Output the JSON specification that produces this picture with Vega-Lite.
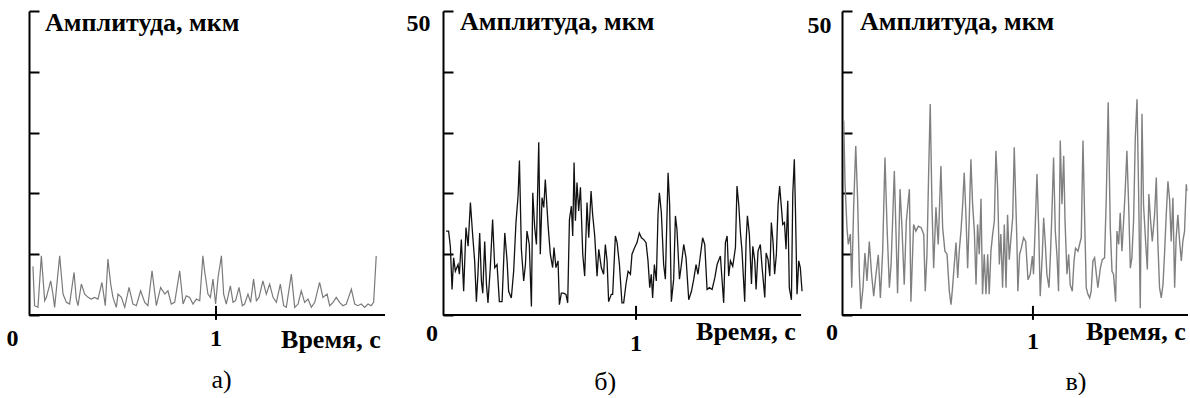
{
  "$schema": "https://vega.github.io/schema/vega-lite/v6.json",
  "padding": {"left": 6, "top": 9, "right": 0, "bottom": 0},
  "background": "white",
  "spacing": 0,
  "bounds": "flush",
  "config": {
    "view": {"stroke": null},
    "text": {"font": "Liberation Serif", "fontWeight": "bold", "fontSize": 26, "color": "black"},
    "axisY": {
      "title": null,
      "grid": false,
      "domainColor": "black",
      "domainWidth": 2,
      "tickColor": "black",
      "tickWidth": 2,
      "tickSize": -10,
      "labelFont": "Liberation Serif",
      "labelFontWeight": "bold",
      "labelFontSize": 24,
      "labelColor": "black",
      "labelPadding": 23,
      "labelBaseline": "middle"
    }
  },
  "datasets": {
    "a": [
      {"t":0.021,"v":8.0},{"t":0.030,"v":1.53},{"t":0.048,"v":1.26},{"t":0.066,"v":9.73},{"t":0.084,"v":2.35},{"t":0.093,"v":2.9},{"t":0.116,"v":5.6},{"t":0.128,"v":3.44},{"t":0.137,"v":1.26},{"t":0.164,"v":9.73},{"t":0.182,"v":3.44},{"t":0.200,"v":2.08},{"t":0.217,"v":1.8},{"t":0.241,"v":7.0},{"t":0.253,"v":2.62},{"t":0.262,"v":1.53},{"t":0.280,"v":5.1},{"t":0.298,"v":3.44},{"t":0.316,"v":2.9},{"t":0.333,"v":2.62},{"t":0.351,"v":2.9},{"t":0.369,"v":2.62},{"t":0.390,"v":5.35},{"t":0.408,"v":1.53},{"t":0.422,"v":9.2},{"t":0.437,"v":5.08},{"t":0.449,"v":2.9},{"t":0.467,"v":1.26},{"t":0.476,"v":3.44},{"t":0.494,"v":2.9},{"t":0.512,"v":1.26},{"t":0.535,"v":4.53},{"t":0.556,"v":1.8},{"t":0.574,"v":1.53},{"t":0.597,"v":3.98},{"t":0.619,"v":2.08},{"t":0.636,"v":1.53},{"t":0.658,"v":7.27},{"t":0.681,"v":1.53},{"t":0.704,"v":4.53},{"t":0.726,"v":3.44},{"t":0.743,"v":3.98},{"t":0.761,"v":1.8},{"t":0.779,"v":2.08},{"t":0.806,"v":7.27},{"t":0.824,"v":1.8},{"t":0.841,"v":3.17},{"t":0.859,"v":2.9},{"t":0.877,"v":1.8},{"t":0.895,"v":2.62},{"t":0.913,"v":2.35},{"t":0.930,"v":9.73},{"t":0.939,"v":7.27},{"t":0.957,"v":3.44},{"t":0.970,"v":2.9},{"t":0.984,"v":5.9},{"t":0.998,"v":1.8},{"t":1.011,"v":6.17},{"t":1.029,"v":9.73},{"t":1.041,"v":3.44},{"t":1.055,"v":1.8},{"t":1.077,"v":4.8},{"t":1.091,"v":2.08},{"t":1.105,"v":2.35},{"t":1.123,"v":4.53},{"t":1.141,"v":1.53},{"t":1.153,"v":1.8},{"t":1.171,"v":3.44},{"t":1.185,"v":2.08},{"t":1.201,"v":5.9},{"t":1.216,"v":2.35},{"t":1.230,"v":2.9},{"t":1.251,"v":5.6},{"t":1.269,"v":3.44},{"t":1.287,"v":5.08},{"t":1.305,"v":2.9},{"t":1.323,"v":2.08},{"t":1.344,"v":5.08},{"t":1.362,"v":1.53},{"t":1.376,"v":1.26},{"t":1.403,"v":6.72},{"t":1.421,"v":1.26},{"t":1.439,"v":1.8},{"t":1.456,"v":3.98},{"t":1.474,"v":2.08},{"t":1.492,"v":2.62},{"t":1.510,"v":1.26},{"t":1.528,"v":2.08},{"t":1.554,"v":5.35},{"t":1.572,"v":2.9},{"t":1.594,"v":3.44},{"t":1.608,"v":1.53},{"t":1.626,"v":2.08},{"t":1.643,"v":2.9},{"t":1.661,"v":2.08},{"t":1.679,"v":1.53},{"t":1.697,"v":1.8},{"t":1.724,"v":4.26},{"t":1.742,"v":1.8},{"t":1.759,"v":1.53},{"t":1.777,"v":1.8},{"t":1.795,"v":1.26},{"t":1.813,"v":1.8},{"t":1.830,"v":1.53},{"t":1.843,"v":2.08},{"t":1.857,"v":9.73}
    ],
    "b": [
      {"t":0.016,"v":13.8},{"t":0.029,"v":13.8},{"t":0.038,"v":11.3},{"t":0.047,"v":4.2},{"t":0.055,"v":9.4},{"t":0.064,"v":7.2},{"t":0.078,"v":8.3},{"t":0.085,"v":6.7},{"t":0.095,"v":12.4},{"t":0.107,"v":3.9},{"t":0.119,"v":14.4},{"t":0.130,"v":11.3},{"t":0.142,"v":18.5},{"t":0.154,"v":13.0},{"t":0.164,"v":8.9},{"t":0.173,"v":2.2},{"t":0.181,"v":6.7},{"t":0.190,"v":13.5},{"t":0.199,"v":5.6},{"t":0.206,"v":3.6},{"t":0.216,"v":12.1},{"t":0.225,"v":5.1},{"t":0.233,"v":2.0},{"t":0.245,"v":7.8},{"t":0.257,"v":15.7},{"t":0.268,"v":7.8},{"t":0.280,"v":8.3},{"t":0.292,"v":2.2},{"t":0.306,"v":2.2},{"t":0.320,"v":13.5},{"t":0.332,"v":8.9},{"t":0.340,"v":3.9},{"t":0.354,"v":2.8},{"t":0.366,"v":7.2},{"t":0.378,"v":15.2},{"t":0.389,"v":19.6},{"t":0.396,"v":25.4},{"t":0.406,"v":10.8},{"t":0.418,"v":5.6},{"t":0.427,"v":8.3},{"t":0.435,"v":13.8},{"t":0.447,"v":11.6},{"t":0.458,"v":1.4},{"t":0.465,"v":20.1},{"t":0.475,"v":14.4},{"t":0.484,"v":11.6},{"t":0.496,"v":28.4},{"t":0.504,"v":10.0},{"t":0.513,"v":19.3},{"t":0.522,"v":17.7},{"t":0.530,"v":22.3},{"t":0.544,"v":14.9},{"t":0.556,"v":10.0},{"t":0.568,"v":7.8},{"t":0.575,"v":11.1},{"t":0.585,"v":7.8},{"t":0.596,"v":8.9},{"t":0.603,"v":1.7},{"t":0.613,"v":3.6},{"t":0.625,"v":3.6},{"t":0.637,"v":3.4},{"t":0.646,"v":2.0},{"t":0.655,"v":15.7},{"t":0.665,"v":17.9},{"t":0.672,"v":13.0},{"t":0.679,"v":25.1},{"t":0.686,"v":15.5},{"t":0.694,"v":21.8},{"t":0.703,"v":17.1},{"t":0.712,"v":21.0},{"t":0.724,"v":10.0},{"t":0.734,"v":6.4},{"t":0.746,"v":18.5},{"t":0.755,"v":12.7},{"t":0.767,"v":20.4},{"t":0.775,"v":16.6},{"t":0.786,"v":13.0},{"t":0.798,"v":6.4},{"t":0.807,"v":10.8},{"t":0.820,"v":7.8},{"t":0.832,"v":6.7},{"t":0.841,"v":11.6},{"t":0.850,"v":8.9},{"t":0.858,"v":2.2},{"t":0.872,"v":3.4},{"t":0.879,"v":3.4},{"t":0.893,"v":13.0},{"t":0.902,"v":11.9},{"t":0.914,"v":8.3},{"t":0.927,"v":2.0},
      {"t":0.936,"v":2.0},{"t":0.948,"v":5.1},{"t":0.959,"v":7.2},{"t":0.971,"v":6.7},{"t":0.979,"v":10.0},{"t":0.993,"v":11.1},{"t":1.005,"v":11.9},{"t":1.017,"v":13.5},{"t":1.028,"v":12.7},{"t":1.040,"v":12.4},{"t":1.052,"v":11.9},{"t":1.062,"v":8.9},{"t":1.071,"v":4.5},{"t":1.079,"v":6.7},{"t":1.086,"v":2.8},{"t":1.095,"v":8.3},{"t":1.105,"v":5.6},{"t":1.114,"v":16.6},{"t":1.121,"v":20.1},{"t":1.131,"v":16.9},{"t":1.143,"v":8.3},{"t":1.152,"v":5.9},{"t":1.166,"v":23.4},{"t":1.174,"v":18.2},{"t":1.183,"v":2.2},{"t":1.195,"v":5.9},{"t":1.204,"v":16.3},{"t":1.212,"v":14.1},{"t":1.225,"v":5.9},{"t":1.235,"v":8.3},{"t":1.247,"v":11.6},{"t":1.259,"v":9.4},{"t":1.273,"v":2.5},{"t":1.287,"v":3.9},{"t":1.299,"v":5.9},{"t":1.311,"v":8.3},{"t":1.321,"v":6.7},{"t":1.333,"v":9.7},{"t":1.345,"v":12.7},{"t":1.356,"v":11.6},{"t":1.368,"v":4.2},{"t":1.380,"v":4.5},{"t":1.394,"v":4.2},{"t":1.408,"v":6.1},{"t":1.420,"v":8.3},{"t":1.437,"v":9.7},{"t":1.446,"v":5.6},{"t":1.454,"v":2.0},{"t":1.463,"v":11.9},{"t":1.472,"v":13.0},{"t":1.480,"v":6.4},{"t":1.489,"v":8.9},{"t":1.501,"v":8.0},{"t":1.515,"v":11.1},{"t":1.523,"v":21.2},{"t":1.532,"v":18.2},{"t":1.541,"v":13.5},{"t":1.549,"v":10.5},{"t":1.563,"v":2.2},{"t":1.570,"v":11.9},{"t":1.577,"v":16.3},{"t":1.587,"v":13.3},{"t":1.598,"v":5.1},{"t":1.605,"v":11.3},{"t":1.615,"v":8.9},{"t":1.622,"v":4.2},{"t":1.632,"v":10.5},{"t":1.644,"v":11.6},{"t":1.653,"v":7.8},{"t":1.667,"v":2.9},{"t":1.674,"v":10.2},{"t":1.684,"v":9.1},{"t":1.693,"v":6.4},{"t":1.701,"v":15.2},{"t":1.710,"v":11.9},{"t":1.718,"v":6.7},{"t":1.727,"v":10.0},{"t":1.736,"v":18.2},{"t":1.744,"v":21.2},{"t":1.753,"v":17.7},{"t":1.760,"v":14.9},{"t":1.769,"v":15.2},{"t":1.777,"v":10.8},{"t":1.786,"v":18.8},{"t":1.794,"v":4.5},{"t":1.805,"v":2.5},{"t":1.812,"v":19.9},{"t":1.820,"v":25.6},{"t":1.826,"v":17.1},{"t":1.834,"v":3.4},{"t":1.843,"v":8.9},{"t":1.851,"v":7.8},{"t":1.860,"v":3.9}
    ],
    "c": [
      {"t":0.009,"v":32.0},{"t":0.016,"v":21.5},{"t":0.026,"v":14.4},{"t":0.033,"v":11.6},{"t":0.044,"v":13.3},{"t":0.051,"v":4.5},{"t":0.061,"v":17.7},{"t":0.072,"v":27.8},{"t":0.082,"v":18.8},{"t":0.091,"v":6.7},{"t":0.099,"v":1.0},{"t":0.110,"v":4.5},{"t":0.120,"v":10.2},{"t":0.131,"v":5.6},{"t":0.143,"v":12.1},{"t":0.155,"v":6.7},{"t":0.166,"v":3.1},{"t":0.178,"v":6.7},{"t":0.190,"v":9.9},{"t":0.201,"v":2.8},{"t":0.213,"v":10.5},{"t":0.225,"v":25.9},{"t":0.236,"v":14.4},{"t":0.248,"v":4.5},{"t":0.257,"v":8.3},{"t":0.265,"v":15.5},{"t":0.274,"v":23.7},{"t":0.283,"v":13.3},{"t":0.291,"v":3.6},{"t":0.304,"v":20.7},{"t":0.314,"v":14.4},{"t":0.326,"v":5.0},{"t":0.337,"v":15.5},{"t":0.353,"v":20.7},{"t":0.361,"v":2.2},{"t":0.375,"v":14.9},{"t":0.387,"v":13.8},{"t":0.400,"v":14.6},{"t":0.414,"v":14.4},{"t":0.428,"v":13.3},{"t":0.436,"v":3.9},{"t":0.445,"v":10.0},{"t":0.454,"v":23.7},{"t":0.462,"v":34.7},{"t":0.471,"v":18.2},{"t":0.480,"v":7.7},{"t":0.492,"v":17.7},{"t":0.504,"v":11.6},{"t":0.518,"v":24.5},{"t":0.527,"v":14.4},{"t":0.539,"v":10.5},{"t":0.550,"v":10.0},{"t":0.562,"v":3.9},{"t":0.571,"v":1.7},{"t":0.579,"v":4.5},{"t":0.588,"v":8.3},{"t":0.597,"v":11.9},{"t":0.606,"v":6.1},{"t":0.614,"v":10.5},{"t":0.623,"v":13.8},{"t":0.632,"v":18.2},{"t":0.640,"v":23.4},{"t":0.649,"v":16.5},{"t":0.658,"v":7.7},{"t":0.667,"v":16.5},{"t":0.675,"v":25.6},{"t":0.684,"v":18.2},{"t":0.693,"v":13.8},{"t":0.702,"v":5.0},{"t":0.710,"v":14.9},{"t":0.719,"v":10.0},{"t":0.728,"v":19.1},{"t":0.736,"v":3.4},{"t":0.745,"v":10.0},{"t":0.754,"v":3.4},{"t":0.763,"v":10.0},{"t":0.771,"v":3.4},{"t":0.780,"v":10.5},{"t":0.789,"v":13.3},{"t":0.798,"v":15.5},{"t":0.806,"v":27.0},{"t":0.815,"v":20.9},{"t":0.824,"v":8.3},{"t":0.832,"v":13.3},{"t":0.841,"v":4.5},{"t":0.850,"v":14.9},{"t":0.859,"v":4.5},{"t":0.867,"v":16.5},{"t":0.876,"v":9.1},{"t":0.885,"v":12.7},{"t":0.894,"v":16.0},{"t":0.902,"v":27.6},
      {"t":0.916,"v":12.1},{"t":0.921,"v":3.9},{"t":0.930,"v":10.0},{"t":0.939,"v":11.0},{"t":0.951,"v":12.7},{"t":0.962,"v":12.1},{"t":0.974,"v":5.8},{"t":0.986,"v":6.7},{"t":0.997,"v":9.7},{"t":1.003,"v":6.7},{"t":1.014,"v":16.5},{"t":1.021,"v":23.2},{"t":1.030,"v":14.4},{"t":1.038,"v":3.1},{"t":1.049,"v":10.0},{"t":1.056,"v":16.0},{"t":1.065,"v":11.6},{"t":1.073,"v":6.7},{"t":1.084,"v":4.5},{"t":1.091,"v":9.4},{"t":1.099,"v":16.5},{"t":1.108,"v":25.9},{"t":1.117,"v":13.8},{"t":1.126,"v":9.7},{"t":1.134,"v":3.9},{"t":1.143,"v":28.7},{"t":1.152,"v":18.2},{"t":1.161,"v":26.2},{"t":1.168,"v":15.5},{"t":1.178,"v":6.7},{"t":1.187,"v":10.0},{"t":1.195,"v":5.0},{"t":1.206,"v":3.9},{"t":1.215,"v":8.9},{"t":1.223,"v":11.0},{"t":1.236,"v":10.5},{"t":1.244,"v":11.6},{"t":1.253,"v":12.7},{"t":1.262,"v":28.7},{"t":1.271,"v":15.5},{"t":1.279,"v":4.5},{"t":1.288,"v":3.4},{"t":1.297,"v":2.8},{"t":1.305,"v":3.9},{"t":1.314,"v":8.9},{"t":1.323,"v":9.4},{"t":1.332,"v":6.7},{"t":1.340,"v":4.5},{"t":1.353,"v":7.7},{"t":1.363,"v":9.1},{"t":1.375,"v":9.4},{"t":1.384,"v":19.3},{"t":1.394,"v":35.0},{"t":1.405,"v":14.4},{"t":1.414,"v":7.2},{"t":1.422,"v":6.7},{"t":1.433,"v":2.2},{"t":1.440,"v":13.8},{"t":1.449,"v":11.6},{"t":1.457,"v":16.8},{"t":1.466,"v":10.5},{"t":1.475,"v":15.5},{"t":1.483,"v":20.4},{"t":1.492,"v":27.0},{"t":1.501,"v":18.2},{"t":1.510,"v":7.7},{"t":1.518,"v":9.4},{"t":1.527,"v":15.5},{"t":1.536,"v":29.2},{"t":1.545,"v":35.5},{"t":1.553,"v":20.9},{"t":1.562,"v":1.1},{"t":1.571,"v":33.1},{"t":1.579,"v":18.2},{"t":1.590,"v":12.1},{"t":1.599,"v":7.5},{"t":1.607,"v":19.9},{"t":1.616,"v":15.5},{"t":1.625,"v":12.1},{"t":1.637,"v":16.5},{"t":1.646,"v":22.6},{"t":1.654,"v":12.1},{"t":1.663,"v":4.5},{"t":1.672,"v":2.8},{"t":1.681,"v":5.0},{"t":1.689,"v":10.0},{"t":1.698,"v":16.5},{"t":1.707,"v":22.0},{"t":1.716,"v":18.8},{"t":1.724,"v":12.1},{"t":1.733,"v":19.3},{"t":1.742,"v":4.5},{"t":1.750,"v":12.7},{"t":1.759,"v":16.5},{"t":1.768,"v":12.1},{"t":1.777,"v":8.9},{"t":1.785,"v":12.1},{"t":1.794,"v":13.8},{"t":1.803,"v":21.5},{"t":1.806,"v":20.4}
    ]
  },
  "hconcat": [
    {
      "width": 414,
      "height": 304,
      "layer": [
        {
          "data": {"name": "a"},
          "mark": {"type": "line", "color": "#7a7a7a", "strokeWidth": 1.2},
          "encoding": {
            "x": {"field": "t", "type": "quantitative", "scale": {"domain": [0, 2.214], "nice": false}, "axis": null},
            "y": {"field": "v", "type": "quantitative", "scale": {"domain": [0, 50], "nice": false}, "axis": {"values": [0, 10, 20, 30, 40, 50], "labels": false}}
          }
        },
        {"data": {"values": [{}]}, "mark": {"type": "rule", "strokeWidth": 2, "color": "black"}, "encoding": {"x": {"datum": 0}, "x2": {"datum": 1.904}, "y": {"datum": 0}}},
        {"data": {"values": [{}]}, "mark": {"type": "rule", "strokeWidth": 2, "color": "black"}, "encoding": {"x": {"datum": 1}, "y": {"datum": -0.8}, "y2": {"datum": 1.5}}},
        {"data": {"values": [{}]}, "mark": {"type": "text", "font": "Liberation Serif", "fontWeight": "bold", "fontSize": 26, "align": "left", "baseline": "alphabetic"}, "encoding": {"x": {"datum": 0.086}, "y": {"datum": 46.7}, "text": {"value": "Амплитуда, мкм"}}},
        {"data": {"values": [{}]}, "mark": {"type": "text", "font": "Liberation Serif", "fontWeight": "bold", "align": "center", "baseline": "middle", "fontSize": 24}, "encoding": {"x": {"datum": -0.088}, "y": {"datum": -3.95}, "text": {"value": "0"}}},
        {"data": {"values": [{}]}, "mark": {"type": "text", "font": "Liberation Serif", "fontWeight": "bold", "align": "center", "baseline": "middle", "fontSize": 24}, "encoding": {"x": {"datum": 1.0}, "y": {"datum": -3.95}, "text": {"value": "1"}}},
        {"data": {"values": [{}]}, "mark": {"type": "text", "font": "Liberation Serif", "fontWeight": "bold", "fontSize": 26, "align": "left", "baseline": "middle"}, "encoding": {"x": {"datum": 1.348}, "y": {"datum": -4.1}, "text": {"value": "Время, с"}}},
        {"data": {"values": [{}]}, "mark": {"type": "text", "font": "Liberation Serif", "fontSize": 26, "align": "center", "baseline": "middle", "fontWeight": "normal"}, "encoding": {"x": {"datum": 1.03}, "y": {"datum": -10.7}, "text": {"value": "а)"}}}
      ]
    },
    {
      "width": 399,
      "height": 304,
      "layer": [
        {
          "data": {"name": "b"},
          "mark": {"type": "line", "color": "#111111", "strokeWidth": 1.3},
          "encoding": {
            "x": {"field": "t", "type": "quantitative", "scale": {"domain": [0, 2.067], "nice": false}, "axis": null},
            "y": {"field": "v", "type": "quantitative", "scale": {"domain": [0, 50], "nice": false}, "axis": {"values": [0, 10, 20, 30, 40, 50], "labelExpr": "datum.value == 50 ? '50' : ''", "labelOffset": 12}}
          }
        },
        {"data": {"values": [{}]}, "mark": {"type": "rule", "strokeWidth": 2, "color": "black"}, "encoding": {"x": {"datum": 0}, "x2": {"datum": 1.855}, "y": {"datum": 0}}},
        {"data": {"values": [{}]}, "mark": {"type": "rule", "strokeWidth": 2, "color": "black"}, "encoding": {"x": {"datum": 1}, "y": {"datum": -0.8}, "y2": {"datum": 1.5}}},
        {"data": {"values": [{}]}, "mark": {"type": "text", "font": "Liberation Serif", "fontWeight": "bold", "fontSize": 26, "align": "left", "baseline": "alphabetic"}, "encoding": {"x": {"datum": 0.088}, "y": {"datum": 46.8}, "text": {"value": "Амплитуда, мкм"}}},
        {"data": {"values": [{}]}, "mark": {"type": "text", "font": "Liberation Serif", "fontWeight": "bold", "align": "center", "baseline": "middle", "fontSize": 24}, "encoding": {"x": {"datum": -0.057}, "y": {"datum": -3.1}, "text": {"value": "0"}}},
        {"data": {"values": [{}]}, "mark": {"type": "text", "font": "Liberation Serif", "fontWeight": "bold", "align": "center", "baseline": "middle", "fontSize": 24}, "encoding": {"x": {"datum": 1.0}, "y": {"datum": -4.8}, "text": {"value": "1"}}},
        {"data": {"values": [{}]}, "mark": {"type": "text", "font": "Liberation Serif", "fontWeight": "bold", "fontSize": 26, "align": "left", "baseline": "middle"}, "encoding": {"x": {"datum": 1.311}, "y": {"datum": -2.8}, "text": {"value": "Время, с"}}},
        {"data": {"values": [{}]}, "mark": {"type": "text", "font": "Liberation Serif", "fontSize": 26, "align": "center", "baseline": "middle", "fontWeight": "normal"}, "encoding": {"x": {"datum": 0.84}, "y": {"datum": -11.0}, "text": {"value": "б)"}}}
      ]
    },
    {
      "width": 346,
      "height": 304,
      "layer": [
        {
          "data": {"name": "c"},
          "mark": {"type": "line", "color": "#808080", "strokeWidth": 1.4},
          "encoding": {
            "x": {"field": "t", "type": "quantitative", "scale": {"domain": [0, 1.812], "nice": false}, "axis": null},
            "y": {"field": "v", "type": "quantitative", "scale": {"domain": [0, 50], "nice": false}, "axis": {"values": [0, 10, 20, 30, 40, 50], "labelExpr": "datum.value == 50 ? '50' : ''", "labelOffset": 14, "labelPadding": 21}}
          }
        },
        {"data": {"values": [{}]}, "mark": {"type": "rule", "strokeWidth": 2, "color": "black"}, "encoding": {"x": {"datum": 0}, "x2": {"datum": 1.812}, "y": {"datum": 0}}},
        {"data": {"values": [{}]}, "mark": {"type": "rule", "strokeWidth": 2, "color": "black"}, "encoding": {"x": {"datum": 1}, "y": {"datum": -0.8}, "y2": {"datum": 1.5}}},
        {"data": {"values": [{}]}, "mark": {"type": "text", "font": "Liberation Serif", "fontWeight": "bold", "fontSize": 26, "align": "left", "baseline": "alphabetic"}, "encoding": {"x": {"datum": 0.094}, "y": {"datum": 46.8}, "text": {"value": "Амплитуда, мкм"}}},
        {"data": {"values": [{}]}, "mark": {"type": "text", "font": "Liberation Serif", "fontWeight": "bold", "align": "center", "baseline": "middle", "fontSize": 24}, "encoding": {"x": {"datum": -0.052}, "y": {"datum": -3.0}, "text": {"value": "0"}}},
        {"data": {"values": [{}]}, "mark": {"type": "text", "font": "Liberation Serif", "fontWeight": "bold", "align": "center", "baseline": "middle", "fontSize": 24}, "encoding": {"x": {"datum": 1.0}, "y": {"datum": -4.4}, "text": {"value": "1"}}},
        {"data": {"values": [{}]}, "mark": {"type": "text", "font": "Liberation Serif", "fontWeight": "bold", "fontSize": 26, "align": "left", "baseline": "middle"}, "encoding": {"x": {"datum": 1.278}, "y": {"datum": -2.8}, "text": {"value": "Время, с"}}},
        {"data": {"values": [{}]}, "mark": {"type": "text", "font": "Liberation Serif", "fontSize": 26, "align": "center", "baseline": "middle", "fontWeight": "normal"}, "encoding": {"x": {"datum": 1.225}, "y": {"datum": -11.0}, "text": {"value": "в)"}}}
      ]
    }
  ]
}
